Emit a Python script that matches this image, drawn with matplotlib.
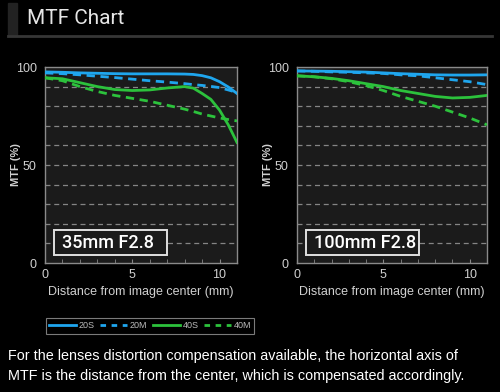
import numpy as np
import matplotlib
matplotlib.use('Agg')
import matplotlib.pyplot as plt
from matplotlib.patches import Rectangle
from matplotlib.lines import Line2D

plt.rcParams['font.family'] = ['Liberation Sans', 'DejaVu Sans']

# data
x_35 = [0, 1, 2, 3, 4, 5, 6, 7, 8, 8.5, 9, 9.5, 10, 10.5, 11]
s20_35 = [97.5, 97.3, 97, 96.8, 96.6, 96.5, 96.5, 96.5, 96.4, 96.2, 95.6, 94.5, 92.5, 89.8, 86.5]
m20_35 = [97, 96.6, 96, 95.3, 94.6, 93.8, 93, 92.3, 91.5, 91, 90.6, 90.1, 89.5, 88.3, 87]
s40_35 = [94.5, 94, 92, 90, 88.5, 88, 88.3, 89.3, 90, 89.2, 86.5, 83.5, 78, 70.5, 61.5]
m40_35 = [94.5, 93, 90, 87.5, 85.5, 84, 82.5, 80.5, 78.5, 77.3, 76, 75, 74, 73.2, 72.5]

x_100 = [0, 1, 2, 3, 4, 5, 6, 7, 8, 9, 10, 11]
s20_100 = [98, 97.9, 97.8, 97.6, 97.4, 97, 96.6, 96.3, 96, 95.9, 95.9, 96]
m20_100 = [98, 97.8, 97.5, 97.3, 97, 96.7, 96, 95.5, 94.5, 93.5, 92.5, 91]
s40_100 = [95.5, 95, 94.2, 93, 91.5, 90, 88, 86.5, 85, 84.2, 84.5, 85.5]
m40_100 = [95.5, 95, 94, 92.5, 90.5, 88, 85, 82.5, 80, 77, 74, 70.5]

lens_names = ['35mm F2.8', '100mm F2.8']
legend_labels = ['20S', '20M', '40S', '40M']

blue = '#1fa6ee'
green = '#2cc23c'

fig = plt.figure(figsize=(5, 3.92), dpi=100)
fig.patch.set_facecolor('black')

# header
fig.patches.append(Rectangle((8 / 500, 1 - 36 / 392), 9 / 500, 33 / 392,
                             transform=fig.transFigure, color='#222222', zorder=0))
fig.lines.append(Line2D([8 / 500, 492 / 500], [1 - 36 / 392, 1 - 36 / 392],
                        transform=fig.transFigure, color='#363636', lw=2))
fig.text(27 / 500, 1 - 18 / 392, 'MTF Chart', color='#e6e6e6', fontsize=15,
         family=['Roboto', 'DejaVu Sans'], va='center', ha='left')


def draw(ax, x, s20, m20, s40, m40, name):
    ax.set_facecolor('#1b1b1b')
    for v in range(10, 100, 10):
        ax.axhline(v, color='#858585', lw=0.9, ls=(0, (4, 3)), zorder=1)
    ax.plot(x, s20, color=blue, lw=2, zorder=3)
    ax.plot(x, m20, color=blue, lw=2, ls=(0, (3, 2)), zorder=3)
    ax.plot(x, s40, color=green, lw=2, zorder=3)
    ax.plot(x, m40, color=green, lw=2, ls=(0, (3, 2)), zorder=3)
    ax.set_xlim(0, 11)
    ax.set_ylim(0, 100)
    ax.set_xticks([0, 5, 10])
    ax.set_yticks([0, 50, 100])
    ax.set_xticks(range(0, 12), minor=True)
    ax.tick_params(axis='x', which='minor', direction='in', length=3, color='#888888')
    ax.tick_params(axis='x', which='major', direction='in', length=3, color='#888888',
                   labelcolor='#d0d0d0', labelsize=9, pad=4)
    ax.tick_params(axis='y', length=0, labelcolor='#d0d0d0', labelsize=9, pad=6)
    for sp in ax.spines.values():
        sp.set_color('#8a8a8a')
        sp.set_linewidth(1)
    ax.set_ylabel('MTF (%)', color='#d0d0d0', fontsize=8, fontweight='bold', labelpad=-4)
    ax.set_xlabel('Distance from image center (mm)', color='#d0d0d0', fontsize=9, labelpad=4)
    # lens name box, fixed width
    w = 113 / (ax.get_position().width * 500)
    x0 = 8.5 / (ax.get_position().width * 500)
    ax.add_patch(Rectangle((x0, 0.041), w, 0.127, transform=ax.transAxes,
                           fc='#1b1b1b', ec='#e0e0e0', lw=1.4, zorder=5))
    ax.text(x0 + 8 / (ax.get_position().width * 500), 0.104, name, transform=ax.transAxes,
            color='white', fontsize=13, fontweight='medium',
            family=['Roboto', 'DejaVu Sans'], va='center', ha='left', zorder=6)


ax1 = fig.add_axes([45 / 500, 1 - 263 / 392, 192 / 500, 196 / 392])
draw(ax1, x_35, s20_35, m20_35, s40_35, m40_35, lens_names[0])
ax2 = fig.add_axes([297 / 500, 1 - 263 / 392, 190 / 500, 196 / 392])
draw(ax2, x_100, s20_100, m20_100, s40_100, m40_100, lens_names[1])

# legend
handles = [Line2D([], [], color=blue, lw=2),
           Line2D([], [], color=blue, lw=2, ls=(0, (2, 2))),
           Line2D([], [], color=green, lw=2),
           Line2D([], [], color=green, lw=2, ls=(0, (2, 2)))]
leg = fig.legend(handles, legend_labels, loc='center left',
                 bbox_to_anchor=(41 / 500, 1 - 326 / 392), ncol=4, frameon=True,
                 fontsize=6.5, labelcolor='#bbbbbb', handlelength=3.0, handletextpad=0.3,
                 columnspacing=0.6, borderpad=0.35, fancybox=False)
leg.get_frame().set_facecolor('black')
leg.get_frame().set_edgecolor('#999999')
leg.get_frame().set_linewidth(0.8)

fig.text(8 / 500, 1 - 356 / 392,
         'For the lenses distortion compensation available, the horizontal axis of',
         color='white', fontsize=10.4, va='center', ha='left')
fig.text(8 / 500, 1 - 376 / 392,
         'MTF is the distance from the center, which is compensated accordingly.',
         color='white', fontsize=10.4, va='center', ha='left')

fig.savefig('out.png', dpi=100, facecolor='black')
